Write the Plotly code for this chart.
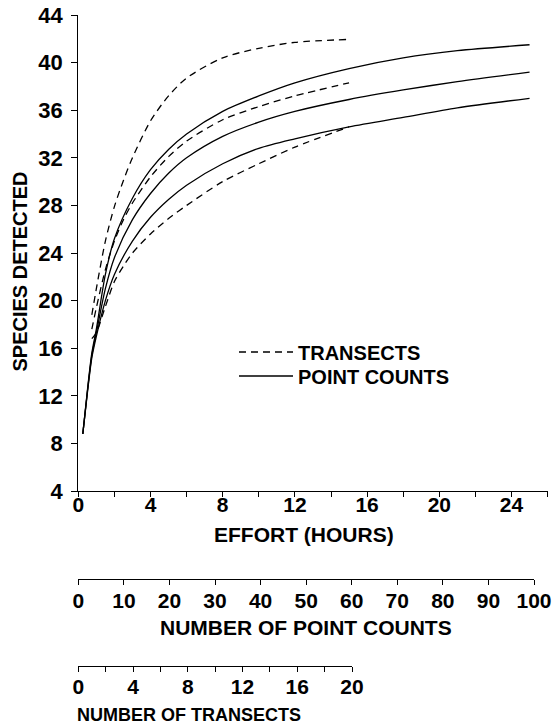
import plotly.graph_objects as go

# ---------------- data ----------------
pc_hours = [0.25, 0.5, 0.75, 1, 1.5, 2, 3, 4, 5, 6, 8, 10, 12, 15, 18, 21, 25]
pc_upper = [8.8, 12.4, 15.6, 17.6, 22.2, 25.2, 28.6, 31.0, 32.7, 34.0, 35.9, 37.2, 38.3, 39.5, 40.4, 41.0, 41.5]
pc_mean = [8.8, 12.3, 15.4, 17.3, 21.0, 23.6, 26.8, 29.0, 30.7, 32.0, 33.8, 35.0, 35.9, 36.9, 37.7, 38.4, 39.2]
pc_lower = [8.8, 12.2, 15.2, 17.0, 20.0, 22.2, 25.0, 27.0, 28.5, 29.7, 31.5, 32.8, 33.6, 34.6, 35.4, 36.2, 37.0]

tr_hours = [0.75, 1, 1.5, 2, 2.5, 3, 4, 5, 6, 8, 10, 12, 15]
tr_upper = [18.8, 21.0, 25.0, 27.9, 30.1, 32.0, 35.1, 37.2, 38.7, 40.4, 41.2, 41.7, 41.95]
tr_mean = [17.6, 19.4, 22.6, 25.0, 26.8, 28.2, 30.4, 32.1, 33.4, 35.2, 36.3, 37.2, 38.3]
tr_lower = [16.8, 17.3, 19.5, 21.6, 22.9, 24.0, 25.6, 26.9, 28.0, 30.0, 31.5, 32.9, 34.6]

y_ticks = [4, 8, 12, 16, 20, 24, 28, 32, 36, 40, 44]
x_ticks = [0, 4, 8, 12, 16, 20, 24]
pc_ticks = [0, 10, 20, 30, 40, 50, 60, 70, 80, 90, 100]
tr_ticks = [0, 4, 8, 12, 16, 20]

# ---------------- layout geometry ----------------
W, H = 559, 724
L, R, T, B = 73, 11, 15, 58
PW, PH = W - L - R, H - T - B


def fx(px):
    return (px - L) / PW


def fy(py):
    return (H - B - py) / PH


FONT = "Liberation Sans, Arial, Helvetica, sans-serif"
BLACK = "#000000"
LW = 1.3

fig = go.Figure()

series = [
    (tr_hours, tr_upper, "dash", "TRANSECTS", True, "legend"),
    (tr_hours, tr_mean, "dash", "TRANSECTS", False, "legend"),
    (tr_hours, tr_lower, "dash", "TRANSECTS", False, "legend"),
    (pc_hours, pc_upper, "solid", "POINT COUNTS", True, "legend2"),
    (pc_hours, pc_mean, "solid", "POINT COUNTS", False, "legend2"),
    (pc_hours, pc_lower, "solid", "POINT COUNTS", False, "legend2"),
]
for xs, ys, dash, name, show, leg in series:
    fig.add_trace(go.Scatter(
        x=xs, y=ys, mode="lines", name=name, legendgroup=name, showlegend=show, legend=leg,
        line=dict(color=BLACK, width=LW, dash=("7px,5px" if dash == "dash" else "solid"),
                  shape="spline", smoothing=0.8),
        xaxis="x", yaxis="y", hoverinfo="skip",
    ))

# empty traces so the two extra scale axes get their own subplots
fig.add_trace(go.Scatter(x=[], y=[], xaxis="x2", yaxis="y2", showlegend=False, hoverinfo="skip"))
fig.add_trace(go.Scatter(x=[], y=[], xaxis="x3", yaxis="y3", showlegend=False, hoverinfo="skip"))

xtickfont = dict(family=FONT, size=21, color=BLACK, weight="bold")
ytickfont = dict(family=FONT, size=22, color=BLACK, weight="bold")
legfont = dict(family=FONT, size=20, color=BLACK, weight="bold")

common = dict(showgrid=False, zeroline=False, automargin=False,
              showline=True, linecolor=BLACK, linewidth=LW,
              ticks="outside", tickwidth=LW, tickcolor=BLACK)
minor = dict(dtick=2, tick0=0, ticks="outside", ticklen=5, tickwidth=LW, tickcolor=BLACK, showgrid=False)

fig.update_layout(
    width=W, height=H,
    margin=dict(l=L, r=R, t=T, b=B, pad=0, autoexpand=False),
    paper_bgcolor="white", plot_bgcolor="white",
    font=dict(family=FONT, size=20, color=BLACK, weight="bold"),
    showlegend=True,
    legend=dict(
        x=fx(234), y=fy(352), xanchor="left", yanchor="middle",
        bgcolor="rgba(0,0,0,0)", borderwidth=0, font=legfont, itemwidth=54,
    ),
    legend2=dict(
        x=fx(234), y=fy(376), xanchor="left", yanchor="middle",
        bgcolor="rgba(0,0,0,0)", borderwidth=0, font=legfont, itemwidth=54,
    ),
    xaxis=dict(
        domain=[fx(78.3), fx(547.6)], range=[0, 26], anchor="y",
        tickmode="array", tickvals=x_ticks, ticktext=[str(v) for v in x_ticks],
        ticklen=5, minor=minor, tickfont=xtickfont, ticklabelstandoff=-10, **common,
    ),
    yaxis=dict(
        domain=[fy(491), 1], range=[4, 44], anchor="x",
        tickmode="array", tickvals=y_ticks, ticktext=[str(v) for v in y_ticks],
        ticklen=6, tickfont=ytickfont, ticklabelstandoff=4, **common,
    ),
    xaxis2=dict(
        domain=[fx(78.3), fx(534)], range=[0, 100], anchor="y2",
        tickmode="array", tickvals=pc_ticks, ticktext=[str(v) for v in pc_ticks],
        ticklen=5, tickfont=xtickfont, ticklabelstandoff=-3, **common,
    ),
    yaxis2=dict(domain=[fy(579.3), fy(579.3) + 0.01], anchor="x2", visible=False, range=[0, 1]),
    xaxis3=dict(
        domain=[fx(78.3), fx(352)], range=[0, 20], anchor="y3",
        tickmode="array", tickvals=tr_ticks, ticktext=[str(v) for v in tr_ticks],
        ticklen=5, minor=minor, tickfont=xtickfont, ticklabelstandoff=-3, **common,
    ),
    yaxis3=dict(domain=[fy(665.7), fy(665.7) + 0.01], anchor="x3", visible=False, range=[0, 1]),
)

titles = [
    ("EFFORT (HOURS)", 304, 534, 0, 21),
    ("NUMBER OF POINT COUNTS", 306, 627.5, 0, 21),
    ("NUMBER OF TRANSECTS", 189, 715, 0, 18),
    ("SPECIES DETECTED", 19.5, 272, -90, 20),
]
for text, px, py, ang, size in titles:
    fig.add_annotation(
        text=text, x=fx(px), y=fy(py), xref="paper", yref="paper",
        xanchor="center", yanchor="middle", showarrow=False, textangle=ang,
        font=dict(family=FONT, size=size, color=BLACK, weight="bold"),
    )

fig.write_html("out.html")
